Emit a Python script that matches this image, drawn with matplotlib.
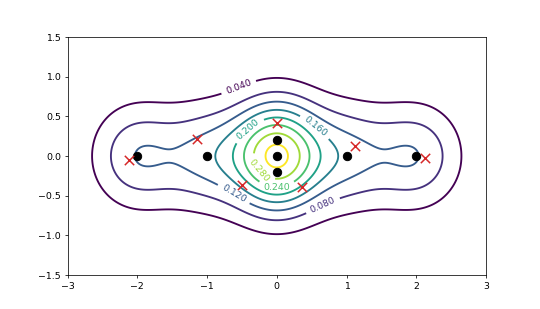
import numpy as np
import matplotlib
matplotlib.use("Agg")
import matplotlib.pyplot as plt

# data points (black) and samples (red)
points_x = [-2.0, -1.0, 0.0, 0.0, 0.0, 1.0, 2.0]
points_y = [0.0, 0.0, 0.2, 0.0, -0.2, 0.0, 0.0]
samples_x = [-2.12, -1.15, 0.0, -0.5, 0.36, 1.12, 2.12]
samples_y = [-0.05, 0.22, 0.42, -0.36, -0.39, 0.13, -0.03]
bandwidth = 0.45
levels = [0.04, 0.08, 0.12, 0.16, 0.20, 0.24, 0.28, 0.32]

label_pos = [(-0.56, 0.90), (0.66, -0.62), (-0.61, -0.47), (0.55, 0.37),
             (-0.44, 0.37), (0.0, -0.38), (-0.25, -0.18)]

fig = plt.figure(figsize=(8, 4.578), dpi=67.5)
ax = fig.add_subplot(111)

gx = np.linspace(-3, 3, 601)
gy = np.linspace(-1.5, 1.5, 301)
X, Y = np.meshgrid(gx, gy)
Z = np.zeros_like(X)
px = np.array(points_x)
py = np.array(points_y)
for a, b in zip(px, py):
    Z += np.exp(-((X - a) ** 2 + (Y - b) ** 2) / (2 * bandwidth ** 2))
Z /= len(px) * 2 * np.pi * bandwidth ** 2

cs = ax.contour(X, Y, Z, levels=levels, cmap='viridis', linewidths=2)
ax.clabel(cs, levels[:-1], inline=True, fmt='%1.3f', fontsize=10, manual=label_pos)
ax.scatter(px, py, c='k', s=80, zorder=3)
ax.scatter(samples_x, samples_y, c='#d62728', marker='x', s=100, linewidths=1.6, zorder=4)
ax.set_xlim(-3, 3)
ax.set_ylim(-1.5, 1.5)

fig.savefig("out.png", dpi=67.5)
